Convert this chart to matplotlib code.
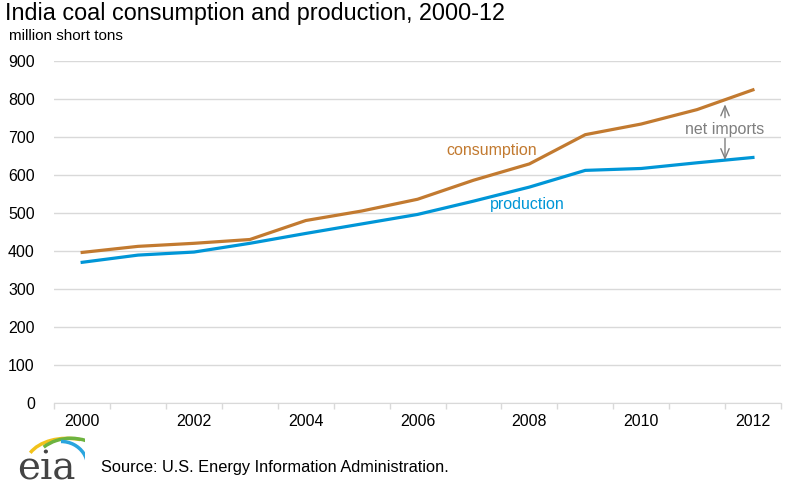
import matplotlib.pyplot as plt
import numpy as np
from matplotlib.patches import Arc

years = list(range(2000, 2013))
consumption = [397, 413, 421, 431, 481, 506, 537, 587, 630, 707, 735, 773, 825]
production = [371, 390, 398, 421, 447, 472, 497, 532, 569, 613, 618, 633, 647]
yticks = [0, 100, 200, 300, 400, 500, 600, 700, 800, 900]
xlabels = [str(y) if y % 2 == 0 else '' for y in years]

c_cons = '#C27A30'
c_prod = '#0096D7'
c_grid = '#D9D9D9'
c_note = '#7F7F7F'

plt.rcParams['font.family'] = ['Liberation Sans', 'DejaVu Sans']

fig = plt.figure(figsize=(7.86, 4.87), dpi=100)
ax = fig.add_axes([0.069, 0.172, 0.9245, 0.702])

x = np.arange(len(years))
ax.plot(x, consumption, color=c_cons, lw=2.3, solid_joinstyle='round')
ax.plot(x, production, color=c_prod, lw=2.3, solid_joinstyle='round')

ax.set_xlim(-0.5, len(years) - 0.5)
ax.set_ylim(0, 900)
ax.set_yticks(yticks)
ax.set_yticklabels([str(v) for v in yticks], fontsize=11.5)
ax.set_xticks(x)
ax.set_xticklabels(xlabels, fontsize=11.5)
ax.set_xticks(np.arange(len(years) + 1) - 0.5, minor=True)
ax.tick_params(axis='x', which='major', length=0, pad=8)
ax.tick_params(axis='x', which='minor', length=4, color=c_grid, width=1)
ax.tick_params(axis='y', length=0, pad=14)
ax.grid(axis='y', color=c_grid, lw=1)
ax.set_axisbelow(True)
for s in ['top', 'right', 'left']:
    ax.spines[s].set_visible(False)
ax.spines['bottom'].set_color(c_grid)

ax.text(7.33, 665, 'consumption', color=c_cons, fontsize=11.5, ha='center', va='center')
ax.text(7.97, 524, 'production', color=c_prod, fontsize=11.5, ha='center', va='center')
ax.text(11.5, 720, 'net imports', color=c_note, fontsize=11.5, ha='center', va='center')
arrow = dict(arrowstyle='->,head_length=0.7,head_width=0.3', color=c_note, lw=1,
             shrinkA=0, shrinkB=0)
ax.annotate('', xy=(11.5, 787), xytext=(11.5, 752), arrowprops=arrow)
ax.annotate('', xy=(11.5, 640), xytext=(11.5, 697), arrowprops=arrow)

fig.text(0.006, 0.972, 'India coal consumption and production, 2000-12',
         fontsize=16.8, va='center', ha='left')
fig.text(0.011, 0.927, 'million short tons', fontsize=11, va='center', ha='left')
fig.text(0.128, 0.024, 'Source: U.S. Energy Information Administration.',
         fontsize=11.8, va='bottom', ha='left')

# eia logo
fig.text(0.022, -0.002, 'eia', fontsize=28, color='#444444', family='DejaVu Serif',
         va='bottom', ha='left')
lax = fig.add_axes([0.028, 0.048, 0.08, 0.065])
lax.set_xlim(0, 1)
lax.set_ylim(0, 1)
lax.axis('off')
lax.add_patch(Arc((0.72, 0.0), 1.3, 1.6, theta1=75, theta2=150, color='#F2C21B', lw=2.5))
lax.add_patch(Arc((0.78, -0.1), 1.2, 1.8, theta1=55, theta2=125, color='#6DB33F', lw=2.5))
lax.add_patch(Arc((0.62, -0.1), 0.85, 1.6, theta1=-40, theta2=90, color='#2AA5DE', lw=2.5))

fig.savefig('out.png', dpi=100)
